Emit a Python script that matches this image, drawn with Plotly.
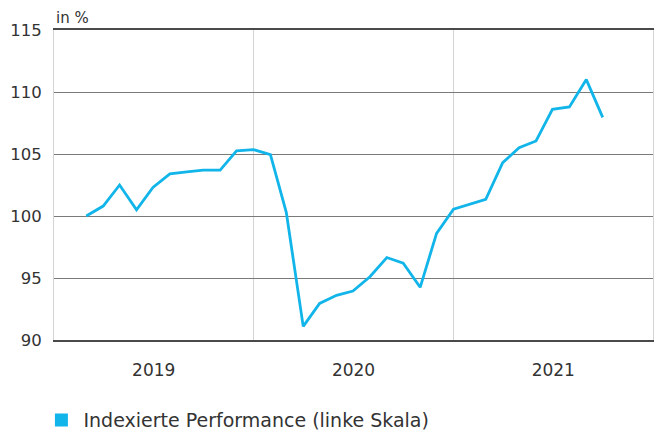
import plotly.graph_objects as go

dates = [
    "2019-03-01", "2019-04-01", "2019-05-01", "2019-06-01", "2019-07-01", "2019-08-01",
    "2019-09-01", "2019-10-01", "2019-11-01", "2019-12-01", "2020-01-01", "2020-02-01",
    "2020-03-01", "2020-04-01", "2020-05-01", "2020-06-01", "2020-07-01", "2020-08-01",
    "2020-09-01", "2020-10-01", "2020-11-01", "2020-12-01", "2021-01-01", "2021-02-01",
    "2021-03-01", "2021-04-01", "2021-05-01", "2021-06-01", "2021-07-01", "2021-08-01",
    "2021-09-01", "2021-10-01",
]
performance = [
    100.0, 100.8, 102.5, 100.5, 102.3, 103.4, 103.55, 103.7, 103.7, 105.25, 105.35, 104.95,
    100.3, 91.1, 92.95, 93.6, 93.95, 95.1, 96.65, 96.2, 94.25, 98.6, 100.55, 101.0,
    101.35, 104.3, 105.5, 106.05, 108.6, 108.8, 111.0, 107.95,
]
y_ticks = [90, 95, 100, 105, 110, 115]
series_name = "Indexierte Performance (linke Skala)"
unit_label = "in %"

LINE = "#12b5e9"
TEXT = "#333333"
FONT = "DejaVu Sans"

fig = go.Figure()
fig.add_trace(go.Scatter(
    x=dates, y=performance, mode="lines",
    line=dict(color=LINE, width=2.8),
    showlegend=False, hoverinfo="skip",
))
fig.add_trace(go.Scatter(
    x=[None], y=[None], mode="markers", name=series_name,
    marker=dict(symbol="square", size=13, color=LINE),
))

fig.update_layout(
    width=657, height=430,
    margin=dict(l=54, r=4, t=30, b=90),
    paper_bgcolor="white", plot_bgcolor="white",
    font=dict(family=FONT, color=TEXT, size=16),
    xaxis=dict(
        type="date",
        range=["2019-01-01", "2022-01-01"],
        tick0="2019-01-01", dtick="M12",
        ticklabelmode="period", tickformat="%Y",
        showgrid=True, gridcolor="#d4d4d4", gridwidth=1,
        showline=True, linecolor="#4a4a4a", linewidth=1.5, mirror=True,
        ticks="outside", ticklen=14, tickcolor="rgba(0,0,0,0)",
        tickfont=dict(size=17, color=TEXT),
        zeroline=False, fixedrange=True, automargin=False,
    ),
    yaxis=dict(
        range=[90, 115], tickvals=y_ticks,
        showgrid=True, gridcolor="#7a7a7a", gridwidth=1,
        showline=True, linecolor="#d4d4d4", linewidth=1, mirror=True,
        ticks="outside", ticklen=8, tickcolor="rgba(0,0,0,0)",
        tickfont=dict(size=16.5, color=TEXT),
        zeroline=False, fixedrange=True, automargin=False,
    ),
    legend=dict(
        orientation="h", xref="container", yref="container",
        x=0.06, xanchor="left", y=0.023, yanchor="middle",
        font=dict(size=19, color=TEXT), itemwidth=34,
    ),
    annotations=[dict(
        text=unit_label, xref="paper", yref="paper", x=0, y=1,
        xanchor="left", yanchor="bottom", yshift=1, showarrow=False,
        font=dict(size=15, color=TEXT),
    )],
)

fig.write_html(
    "out.html",
    config={"displayModeBar": False},
    post_script="document.body.style.margin='0';document.body.style.overflow='hidden';",
)
